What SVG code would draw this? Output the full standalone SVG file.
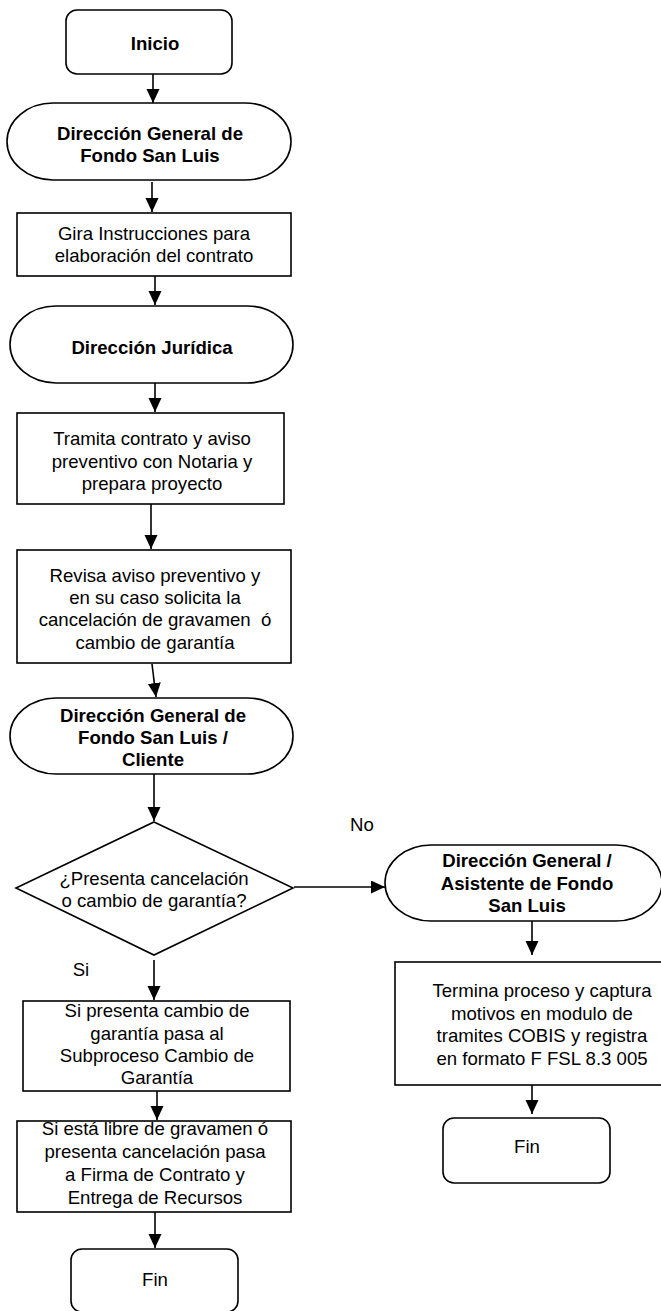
<svg xmlns="http://www.w3.org/2000/svg" width="661" height="1311" viewBox="0 0 661 1311">
<style>
.s{fill:#fff;stroke:#000;stroke-width:1.6}
.t{font-family:"Liberation Sans",Arial,sans-serif;font-size:18.6px;fill:#000;text-anchor:middle}
.b{font-weight:bold}
.c{stroke:#000;stroke-width:1.6;fill:none;marker-end:url(#ah)}
</style>
<defs>
<marker id="ah" markerUnits="userSpaceOnUse" markerWidth="14" markerHeight="14" refX="14" refY="6.5" orient="auto">
<path d="M0,0 L14,6.5 L0,13 z" fill="#000"/>
</marker>
</defs>
<rect width="661" height="1311" fill="#fff"/>
<g id="connectors">
<line class="c" x1="153" y1="74" x2="153" y2="103"/>
<line class="c" x1="152" y1="182" x2="152" y2="212"/>
<line class="c" x1="155" y1="276" x2="155" y2="305"/>
<line class="c" x1="155" y1="383" x2="155" y2="412"/>
<line class="c" x1="151" y1="504" x2="151" y2="549"/>
<line class="c" x1="152" y1="664" x2="156" y2="697"/>
<line class="c" x1="154" y1="774" x2="154" y2="821"/>
<line class="c" x1="154" y1="960" x2="154" y2="1000"/>
<line class="c" x1="294" y1="887" x2="385" y2="887"/>
<line class="c" x1="532" y1="921" x2="532" y2="955"/>
<line class="c" x1="157" y1="1091" x2="157" y2="1120"/>
<line class="c" x1="532" y1="1085" x2="532" y2="1114"/>
<line class="c" x1="155" y1="1212" x2="155" y2="1248"/>
<text class="t" x="362" y="831">No</text>
<text class="t" x="81" y="976">Si</text>
</g>
<g id="inicio">
<rect class="s" x="66" y="10" width="166" height="64" rx="11"/>
<text class="t b" x="155" y="49.5">Inicio</text>
</g>
<g id="dgfsl1">
<rect class="s" x="7" y="103" width="284" height="77" rx="46" ry="38.5"/>
<text class="t b" x="150" y="139.5">Dirección General de</text>
<text class="t b" x="150" y="161.5">Fondo San Luis</text>
</g>
<g id="gira">
<rect class="s" x="17" y="213" width="274" height="63"/>
<text class="t" x="154" y="239.5">Gira Instrucciones para</text>
<text class="t" x="154" y="261.5">elaboración del contrato</text>
</g>
<g id="juridica">
<rect class="s" x="10" y="306" width="283" height="77" rx="46" ry="38.5"/>
<text class="t b" x="152" y="353.5">Dirección Jurídica</text>
</g>
<g id="tramita">
<rect class="s" x="17" y="413" width="267" height="91"/>
<text class="t" x="152" y="444.5">Tramita contrato y aviso</text>
<text class="t" x="152" y="467.5">preventivo con Notaria y</text>
<text class="t" x="152" y="489.5">prepara proyecto</text>
</g>
<g id="revisa">
<rect class="s" x="17" y="550" width="274" height="113"/>
<text class="t" x="155" y="581.5">Revisa aviso preventivo y</text>
<text class="t" x="155" y="603.5">en su caso solicita la</text>
<text class="t" x="155" y="625.5" xml:space="preserve">cancelación de gravamen  ó</text>
<text class="t" x="155" y="648.5">cambio de garantía</text>
</g>
<g id="dgfsl2">
<rect class="s" x="10" y="698" width="283" height="76" rx="46" ry="38"/>
<text class="t b" x="153" y="721.5">Dirección General de</text>
<text class="t b" x="153" y="743.5">Fondo San Luis /</text>
<text class="t b" x="153" y="765.5">Cliente</text>
</g>
<g id="decision">
<polygon class="s" points="154,822 293,888 154,955 16,888"/>
<text class="t" x="154" y="884.5">¿Presenta cancelación</text>
<text class="t" x="154" y="906.5">o cambio de garantía?</text>
</g>
<g id="dgasistente">
<rect class="s" x="385" y="845" width="277" height="76" rx="46" ry="38"/>
<text class="t b" x="527" y="866.5">Dirección General /</text>
<text class="t b" x="527" y="889.5">Asistente de Fondo</text>
<text class="t b" x="527" y="911.5">San Luis</text>
</g>
<g id="termina">
<rect class="s" x="395" y="962" width="290" height="123"/>
<text class="t" x="542" y="996.5">Termina proceso y captura</text>
<text class="t" x="542" y="1019.5">motivos en modulo de</text>
<text class="t" x="542" y="1041.5">tramites COBIS y registra</text>
<text class="t" x="542" y="1064.5">en formato F FSL 8.3 005</text>
</g>
<g id="fin2">
<rect class="s" x="443" y="1118" width="167" height="65" rx="11"/>
<text class="t" x="527" y="1152.5">Fin</text>
</g>
<g id="sipresenta">
<rect class="s" x="23" y="1001" width="267" height="90"/>
<text class="t" x="157" y="1016.5">Si presenta cambio de</text>
<text class="t" x="157" y="1039.5">garantía pasa al</text>
<text class="t" x="157" y="1061.5">Subproceso Cambio de</text>
<text class="t" x="157" y="1083.5">Garantía</text>
</g>
<g id="siesta">
<rect class="s" x="17" y="1121" width="274" height="91"/>
<text class="t" x="155" y="1135">Si está libre de gravamen ó</text>
<text class="t" x="155" y="1158">presenta cancelación pasa</text>
<text class="t" x="155" y="1181">a Firma de Contrato y</text>
<text class="t" x="155" y="1204">Entrega de Recursos</text>
</g>
<g id="fin1">
<rect class="s" x="71" y="1249" width="167" height="63" rx="11"/>
<text class="t" x="155" y="1285.5">Fin</text>
</g>
</svg>
